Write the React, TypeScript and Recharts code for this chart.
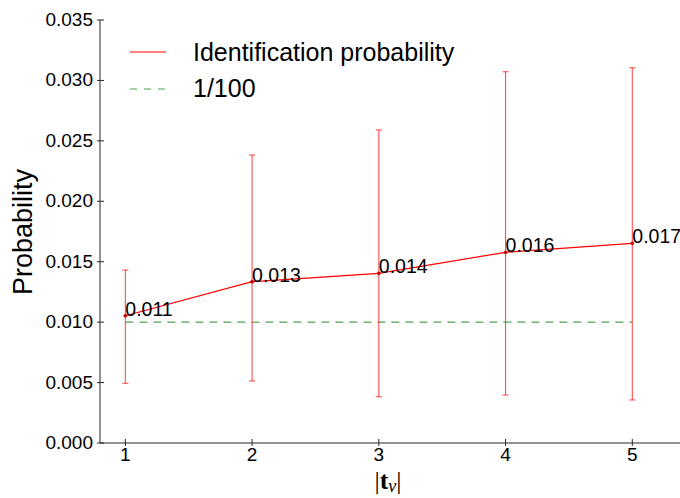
import React from "react";
import {
  LineChart,
  Line,
  XAxis,
  YAxis,
  ErrorBar,
  LabelList,
  Legend,
} from "recharts";

// ---- data ----
const tvSizes = [1, 2, 3, 4, 5];
const identificationProb = [0.01053, 0.01335, 0.01404, 0.01578, 0.01652];
const probLower = [0.00494, 0.00513, 0.00383, 0.00397, 0.00356];
const probUpper = [0.01431, 0.02383, 0.0259, 0.03072, 0.03105];
const baselineProb = [0.01, 0.01, 0.01, 0.01, 0.01];
const pointLabels = ["0.011", "0.013", "0.014", "0.016", "0.017"];

const xTicks = [1, 2, 3, 4, 5];
const xTickLabels = ["1", "2", "3", "4", "5"];
const yTicks = [0, 0.005, 0.01, 0.015, 0.02, 0.025, 0.03, 0.035];
const yTickLabels = ["0.000", "0.005", "0.010", "0.015", "0.020", "0.025", "0.030", "0.035"];
const seriesNames = ["Identification probability", "1/100"];

const data = tvSizes.map((x, i) => ({
  x,
  prob: identificationProb[i],
  err: [identificationProb[i] - probLower[i], probUpper[i] - identificationProb[i]],
  ref: baselineProb[i],
}));

const FONT = "'Liberation Sans', Arial, Helvetica, sans-serif";
const AXIS = "#262626";
const RED = "#ff0000";
const GREEN = "#4ea64e";

const LeftTick = (p: any) => (
  <g>
    <line x1={p.x - 3} x2={p.x + 4} y1={p.y} y2={p.y} stroke={AXIS} strokeWidth={1} />
    <text x={p.x - 7} y={p.y} dy={6} textAnchor="end" fontSize={19} fontFamily={FONT} fill="#000">
      {yTickLabels[p.index]}
    </text>
  </g>
);
const RightTick = (p: any) => (
  <line x1={p.x - 4} x2={p.x + 3} y1={p.y} y2={p.y} stroke={AXIS} strokeWidth={1} />
);
const BottomTick = (p: any) => (
  <g>
    <line x1={p.x} x2={p.x} y1={p.y - 4} y2={p.y + 3} stroke={AXIS} strokeWidth={1} />
    <text x={p.x} y={p.y + 18} textAnchor="middle" fontSize={19} fontFamily={FONT} fill="#000">
      {xTickLabels[p.index]}
    </text>
  </g>
);
const TopTick = (p: any) => (
  <line x1={p.x} x2={p.x} y1={p.y - 3} y2={p.y + 4} stroke={AXIS} strokeWidth={1} />
);

const PointLabel = (p: any) => (
  <text x={p.x} y={p.y} textAnchor="start" fontSize={19.5} fontFamily={FONT} fill="#000">
    {pointLabels[p.index]}
  </text>
);

const LegendBox = () => (
  <svg width={680} height={110} style={{ display: "block" }}>
    <line x1={130} x2={166} y1={52} y2={52} stroke={RED} strokeWidth={1.2} />
    <text x={193} y={61} fontSize={25} fontFamily={FONT} fill="#000">
      {seriesNames[0]}
    </text>
    <line x1={130} x2={166} y1={89} y2={89} stroke={GREEN} strokeWidth={1.2} strokeDasharray="7 7" />
    <text x={193} y={97} fontSize={25} fontFamily={FONT} fill="#000">
      {seriesNames[1]}
    </text>
  </svg>
);

const YTitle = () => (
  <text
    x={32}
    y={232}
    transform="rotate(-90 32 232)"
    textAnchor="middle"
    fontSize={27}
    fontFamily={FONT}
    fill="#000"
  >
    Probability
  </text>
);

const XTitle = () => (
  <text x={388} y={489} textAnchor="middle" fontSize={26} fontFamily="'Liberation Serif', 'DejaVu Serif', serif" fill="#000">
    <tspan>|</tspan>
    <tspan fontWeight="bold">t</tspan>
    <tspan fontStyle="italic" fontSize={18} dy={3}>v</tspan>
    <tspan dy={-3}>|</tspan>
  </text>
);

export default function App() {
  return (
    <div style={{ position: "fixed", left: 0, top: 0, width: 680, height: 498, overflow: "hidden", background: "#fff" }}>
      <LineChart
        width={720}
        height={498}
        data={data}
        margin={{ top: 20, right: 37, bottom: 0, left: 0 }}
      >
        <XAxis
          xAxisId="b"
          dataKey="x"
          type="number"
          domain={[0.8, 5.4]}
          ticks={xTicks}
          interval={0}
          height={55}
          tickSize={0}
          tickMargin={0}
          tickLine={false}
          axisLine={{ stroke: AXIS, strokeWidth: 1 }}
          tick={BottomTick}
          allowDataOverflow
          label={{ content: XTitle }}
        />
        <XAxis
          xAxisId="t"
          orientation="top"
          dataKey="x"
          type="number"
          domain={[0.8, 5.4]}
          ticks={xTicks}
          interval={0}
          height={0}
          tickSize={0}
          tickMargin={0}
          tickLine={false}
          axisLine={{ stroke: AXIS, strokeWidth: 1 }}
          tick={TopTick}
          allowDataOverflow
        />
        <YAxis
          yAxisId="l"
          type="number"
          domain={[0, 0.035]}
          ticks={yTicks}
          interval={0}
          width={100}
          tickSize={0}
          tickMargin={0}
          tickLine={false}
          axisLine={{ stroke: AXIS, strokeWidth: 1 }}
          tick={LeftTick}
          allowDataOverflow
          label={{ content: YTitle }}
        />
        <YAxis
          yAxisId="r"
          orientation="right"
          type="number"
          domain={[0, 0.035]}
          ticks={yTicks}
          interval={0}
          width={0}
          tickSize={0}
          tickMargin={0}
          tickLine={false}
          axisLine={{ stroke: AXIS, strokeWidth: 1 }}
          tick={RightTick}
          allowDataOverflow
        />
        <Line
          xAxisId="b"
          yAxisId="l"
          dataKey="ref"
          name={seriesNames[1]}
          stroke={GREEN}
          strokeWidth={1.2}
          strokeDasharray="8 6"
          dot={false}
          isAnimationActive={false}
        />
        <Line
          xAxisId="b"
          yAxisId="l"
          dataKey="prob"
          name={seriesNames[0]}
          stroke={RED}
          strokeWidth={1.2}
          dot={{ r: 1.6, fill: "#c00000", stroke: "#c00000", strokeWidth: 0.5 }}
          isAnimationActive={false}
        >
          <ErrorBar dataKey="err" direction="y" width={3} stroke="#ff3333" strokeOpacity={0.85} strokeWidth={1.1} />
          <LabelList dataKey="prob" content={PointLabel} />
        </Line>
        <Legend
          layout="vertical"
          align="center"
          verticalAlign="middle"
          content={LegendBox}
          wrapperStyle={{ position: "absolute", left: 0, top: 0, width: 680, height: 110, pointerEvents: "none" }}
        />
      </LineChart>
    </div>
  );
}
